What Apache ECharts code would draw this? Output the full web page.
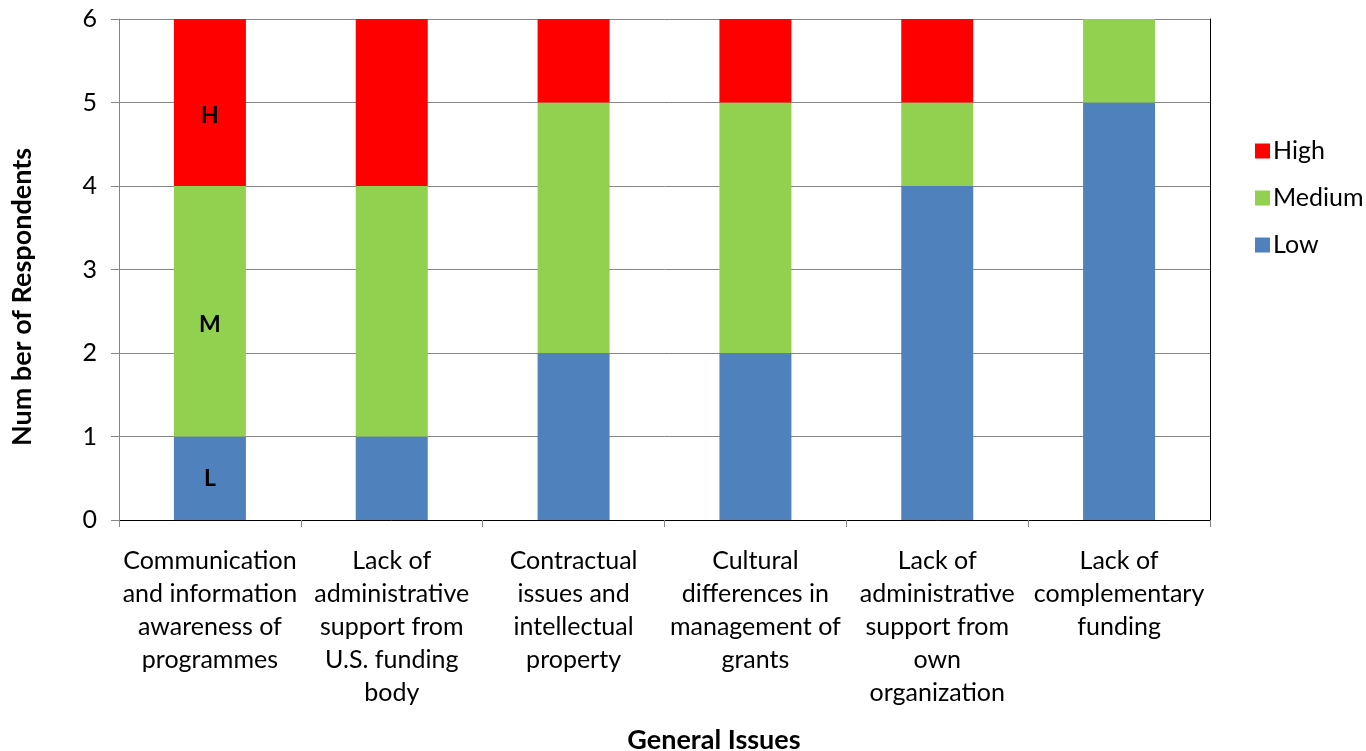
<!DOCTYPE html>
<html>
<head>
<meta charset="utf-8">
<title>General Issues</title>
<script src="https://cdn.jsdelivr.net/npm/echarts@6/dist/echarts.min.js"></script>
<style>
  html, body { margin: 0; padding: 0; background: #fff; }
  #chart { width: 1366px; height: 751px; }
</style>
</head>
<body>
<div id="chart"></div>
<script>
// categories and values
const categories = [
    'Communication\nand information\nawareness of\nprogrammes',
    'Lack of\nadministrative\nsupport from\nU.S. funding\nbody',
    'Contractual\nissues and\nintellectual\nproperty',
    'Cultural\ndifferences in\nmanagement of\ngrants',
    'Lack of\nadministrative\nsupport from\nown\norganization',
    'Lack of\ncomplementary\nfunding'
];
const lowValues = [1, 1, 2, 2, 4, 5];
const mediumValues = [3, 3, 3, 3, 1, 1];
const highValues = [2, 2, 1, 1, 1, 0];
const yTicks = [0, 1, 2, 3, 4, 5, 6];
// letters shown only on the first bar
const barLetters = { Low: 'L', Medium: 'M', High: 'H' };

const FONT = 'Lato, "Liberation Sans", sans-serif';

const chartDom = document.getElementById('chart');
const myChart = echarts.init(chartDom, null, { renderer: 'canvas' });

const makeData = (name, values) => values.map((v, i) => {
    if (i !== 0) return v;
    return {
        value: v,
        label: {
            show: true,
            formatter: barLetters[name],
            position: 'inside',
            offset: name === 'Low' ? [0, 0] : [0, 13],
            color: '#000',
            fontFamily: FONT,
            fontWeight: 'bold',
            fontSize: 23
        }
    };
});

const seriesDefs = [
    { name: 'Low', color: '#4F81BD', values: lowValues },
    { name: 'Medium', color: '#92D050', values: mediumValues },
    { name: 'High', color: '#FF0000', values: highValues }
];

const series = seriesDefs.map(s => ({
    name: s.name,
    type: 'bar',
    stack: 'total',
    barWidth: 72,
    itemStyle: { color: s.color },
    emphasis: { disabled: true },
    data: makeData(s.name, s.values)
}));

const option = {
    animation: false,
    backgroundColor: '#fff',
    grid: {
        left: 119,
        right: 156,
        top: 19,
        bottom: 231,
        containLabel: false
    },
    legend: {
        orient: 'vertical',
        left: 1250,
        top: 133,
        data: ['High', 'Medium', 'Low'],
        icon: 'rect',
        itemWidth: 15,
        itemHeight: 15,
        itemGap: 21,
        textStyle: {
            fontFamily: FONT,
            fontSize: 25,
            lineHeight: 26,
            color: '#000',
            padding: [0, 0, 0, -2]
        }
    },
    graphic: [
        {
            type: 'text',
            x: 714,
            y: 740,
            style: {
                text: 'General Issues',
                align: 'center',
                verticalAlign: 'middle',
                fontFamily: FONT,
                fontWeight: 'bold',
                fontSize: 27,
                fill: '#000'
            }
        },
        {
            type: 'text',
            rotation: Math.PI / 2,
            x: 22,
            y: 297,
            style: {
                text: 'Num ber of Respondents',
                align: 'center',
                verticalAlign: 'middle',
                fontFamily: FONT,
                fontWeight: 'bold',
                fontSize: 27,
                fill: '#000'
            }
        }
    ],
    xAxis: [
        {
            type: 'category',
            data: categories,
            axisLine: { show: true, lineStyle: { color: '#868686', width: 1 } },
            axisTick: { show: true, length: 7, alignWithLabel: false, lineStyle: { color: '#868686' } },
            axisLabel: {
                interval: 0,
                margin: 24,
                fontFamily: FONT,
                fontSize: 25,
                lineHeight: 33,
                color: '#000'
            },
            splitLine: { show: false }
        },
        {
            type: 'category',
            position: 'top',
            data: categories,
            axisLine: { show: true, lineStyle: { color: '#000', width: 1 } },
            axisTick: { show: false },
            axisLabel: { show: false }
        }
    ],
    yAxis: [
        {
            type: 'value',
            min: yTicks[0],
            max: yTicks[yTicks.length - 1],
            interval: 1,
            axisLine: { show: true, lineStyle: { color: '#868686', width: 1 } },
            axisTick: { show: true, length: 8, lineStyle: { color: '#868686' } },
            axisLabel: {
                margin: 22,
                fontFamily: FONT,
                fontSize: 25,
                color: '#000'
            },
            splitLine: { show: true, lineStyle: { color: '#868686', width: 1 } }
        },
        {
            type: 'value',
            position: 'right',
            min: yTicks[0],
            max: yTicks[yTicks.length - 1],
            interval: 1,
            axisLine: { show: true, lineStyle: { color: '#000', width: 1 } },
            axisTick: { show: false },
            axisLabel: { show: false },
            splitLine: { show: false }
        }
    ],
    series: series
};

myChart.setOption(option);
window.addEventListener('resize', myChart.resize);
</script>
</body>
</html>
